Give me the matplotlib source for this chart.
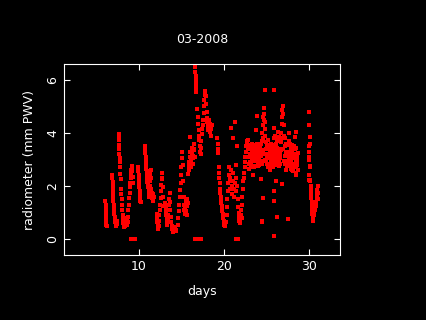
import numpy as np
import matplotlib
matplotlib.use('Agg')
import matplotlib.pyplot as plt

# ---- data (day of month, PWV in mm) ----
# week 1
days_w1 = [6.08, 6.09, 6.10, 6.11, 6.12, 6.13, 6.14, 6.15, 6.16, 6.18, 6.20,
           6.88, 6.90, 6.92, 6.94, 6.96, 6.98, 7.00, 7.02, 7.05, 7.08, 7.10,
           7.13, 7.16, 7.19, 7.22, 7.25, 7.28, 7.31, 7.34, 7.37, 7.40, 7.43,
           7.62, 7.64, 7.66, 7.68, 7.70, 7.72, 7.74, 7.76, 7.80, 7.84, 7.88,
           7.92, 7.95, 7.98, 8.01, 8.04, 8.08, 8.12, 8.16, 8.20, 8.25, 8.30,
           8.35, 8.40, 8.45, 8.50, 8.55, 8.60,
           8.70, 8.74, 8.78, 8.82, 8.86, 8.90, 8.94, 8.98, 9.02, 9.06, 9.10,
           9.14, 9.18, 9.22, 9.26, 9.30,
           9.10, 9.20, 9.30, 9.40, 9.50,
           9.90, 9.93, 9.96, 9.99, 10.02, 10.05, 10.08, 10.11, 10.14, 10.17, 10.20,
           10.70, 10.73, 10.76, 10.79, 10.82, 10.85, 10.88, 10.91, 10.94, 10.97,
           11.00, 11.04, 11.08, 11.12, 11.16, 11.20, 11.24, 11.28, 11.32, 11.36,
           11.40, 11.44, 11.48, 11.52, 11.56, 11.60, 11.64, 11.68, 11.72]
pwv_w1 = [1.42, 1.30, 1.18, 1.05, 0.98, 0.90, 0.80, 0.72, 0.62, 0.55, 0.48,
          2.42, 2.30, 2.15, 2.00, 1.85, 1.70, 1.60, 1.45, 1.30, 1.15, 1.00,
          0.95, 0.85, 0.80, 0.72, 0.65, 0.60, 0.55, 0.52, 0.50, 0.58, 0.70,
          3.95, 3.88, 3.72, 3.55, 3.38, 3.20, 3.05, 2.92, 2.70, 2.45, 2.25,
          1.90, 1.70, 1.50, 1.30, 1.10, 0.90, 0.75, 0.62, 0.50, 0.45, 0.55,
          0.70, 0.48, 0.60, 0.80, 0.68, 0.55,
          0.65, 0.85, 1.10, 1.30, 1.55, 1.75, 1.95, 2.10, 2.30, 2.45, 2.60,
          2.72, 2.76, 2.55, 2.35, 2.10,
          0.0, 0.0, 0.0, 0.0, 0.0,
          2.70, 2.55, 2.40, 2.25, 2.10, 1.95, 1.80, 1.65, 1.55, 1.45, 1.40,
          3.50, 3.40, 3.25, 3.10, 2.95, 2.80, 2.65, 2.55, 2.40, 2.30,
          2.15, 2.05, 1.95, 2.10, 1.85, 1.70, 1.60, 2.00, 2.20, 2.45,
          2.60, 2.30, 1.90, 1.75, 1.55, 1.50, 1.70, 1.45, 1.60]

# week 2
days_w2 = [12.10, 12.14, 12.18, 12.22, 12.26, 12.30, 12.34, 12.38, 12.42, 12.46,
           12.50, 12.54, 12.58, 12.62, 12.66, 12.70, 12.74, 12.78, 12.82, 12.86,
           13.10, 13.14, 13.18, 13.22, 13.26, 13.30, 13.34, 13.38, 13.42, 13.46,
           13.50, 13.55, 13.60, 13.65, 13.70, 13.75, 13.80, 13.85, 13.90, 13.95,
           14.00, 14.05, 14.10, 14.15, 14.20, 14.30, 14.40,
           14.60, 14.65, 14.70, 14.75, 14.80, 14.85, 14.90, 14.95, 15.00, 15.05,
           15.10, 15.15, 15.20, 15.25, 15.30, 15.35, 15.40, 15.45, 15.50, 15.55,
           15.60, 15.65, 15.70, 15.75,
           15.80, 15.84, 15.88, 15.92, 15.96, 16.00, 16.04, 16.08, 16.12, 16.16,
           16.20, 16.24, 16.28, 16.32, 16.36, 16.40, 16.44, 16.48, 16.52, 16.56,
           16.62, 16.64, 16.66, 16.68, 16.70, 16.72, 16.74,
           16.62, 16.75, 16.88, 17.00, 17.12, 17.25,
           16.85, 16.90, 16.95, 17.00, 17.05, 17.10, 17.15, 17.20, 17.25, 17.30,
           17.35, 17.40, 17.45, 17.50, 17.55, 17.60, 17.65, 17.70, 17.75, 17.80,
           17.85, 17.90, 17.95, 18.00, 18.05, 18.10, 18.15, 18.20, 18.25, 18.30,
           18.35, 18.40, 18.45, 18.50, 18.55]
pwv_w2 = [0.95, 0.80, 0.65, 0.55, 0.45, 0.38, 0.50, 0.70, 0.90, 1.10,
          1.30, 1.55, 1.80, 2.05, 2.30, 2.50, 2.25, 1.95, 1.60, 1.25,
          1.35, 1.20, 1.05, 0.90, 0.75, 0.60, 0.55, 0.70, 0.90, 1.10,
          1.30, 1.50, 1.72, 1.40, 1.10, 0.85, 0.65, 0.50, 0.40, 0.30,
          0.25, 0.35, 0.45, 0.30, 0.40, 0.30, 0.35,
          0.55, 0.80, 1.05, 1.30, 1.60, 1.85, 2.10, 2.40, 2.70, 3.05,
          3.30, 2.80, 2.20, 1.60, 1.30, 1.10, 0.95, 1.20, 1.45, 1.05,
          0.90, 1.25, 1.50, 1.35,
          2.45, 2.60, 2.75, 2.90, 3.85, 3.30, 3.10, 2.95, 2.70, 3.00,
          3.25, 3.45, 3.20, 3.05, 2.85, 3.15, 3.40, 3.60, 3.35, 3.10,
          6.50, 6.30, 6.15, 6.00, 5.85, 5.70, 5.55,
          0.0, 0.0, 0.0, 0.0, 0.0, 0.0,
          4.90, 4.60, 4.35, 4.10, 3.90, 3.75, 3.50, 3.30, 3.20, 3.45,
          3.70, 3.95, 4.15, 4.30, 4.50, 4.75, 5.00, 5.25, 5.45, 5.60,
          5.40, 5.10, 4.80, 4.55, 4.40, 4.25, 4.10, 4.30, 4.50, 4.35,
          4.20, 4.05, 3.90, 4.15, 4.30]

# week 3
days_w3 = [19.20, 19.24, 19.28, 19.32, 19.36, 19.40, 19.44, 19.48, 19.52, 19.56,
           19.60, 19.64, 19.68, 19.72, 19.76, 19.80, 19.84, 19.88, 19.92, 19.96,
           20.00, 20.04, 20.08, 20.12, 20.16, 20.20,
           20.30, 20.35, 20.40, 20.45, 20.50, 20.55, 20.60, 20.65, 20.70, 20.75,
           20.80, 20.85, 20.90, 20.95, 21.00, 21.05, 21.10, 21.15, 21.20, 21.25,
           21.30, 21.35, 21.40, 21.45, 21.50, 21.55, 21.60, 21.65, 21.70, 21.75,
           21.80, 21.85, 21.90, 21.95, 22.00, 22.05, 22.10, 22.15, 22.20, 22.25,
           22.30, 22.35, 22.40, 22.45, 22.50, 22.55, 22.60, 22.65, 22.70,
           21.40, 21.50, 21.60]
pwv_w3 = [3.80, 3.60, 3.40, 3.25, 2.70, 2.50, 2.30, 2.10, 1.90, 1.75,
          1.60, 1.50, 1.35, 1.25, 1.15, 1.05, 0.95, 0.85, 0.80, 0.70,
          0.62, 0.55, 0.50, 0.48, 0.55, 0.65,
          0.90, 1.20, 1.50, 1.80, 2.10, 2.40, 2.70, 2.20, 1.90, 2.30,
          4.20, 2.60, 2.00, 1.70, 2.20, 3.80, 2.50, 1.90, 1.60, 2.10,
          4.42, 2.80, 2.30, 1.80, 3.50, 2.00, 1.50, 1.20, 1.00, 0.85,
          0.70, 0.62, 0.75, 0.90, 1.10, 0.80, 1.30, 1.60, 1.90, 2.20,
          2.50, 2.30, 2.70, 2.90, 3.10, 3.30, 3.50, 3.70, 3.60,
          0.0, 0.0, 0.0]

# late month band
days_w4 = [22.75, 22.80, 22.85, 22.90, 22.95, 23.00, 23.05, 23.10, 23.15, 23.20,
           23.25, 23.30, 23.35, 23.40, 23.45, 23.50, 23.55, 23.60, 23.65, 23.70,
           23.75, 23.80, 23.85, 23.90, 23.95, 24.00, 24.05, 24.10, 24.15, 24.20,
           24.25, 24.30, 24.35, 24.40, 24.45, 24.50, 24.55, 24.60, 24.65, 24.70,
           24.75, 24.80, 24.85, 24.90, 24.95, 25.00, 25.05, 25.10, 25.15, 25.20,
           25.25, 25.30, 25.35, 25.40, 25.45, 25.50, 25.55, 25.60, 25.65, 25.70,
           25.75, 25.80, 25.85, 25.90, 25.95, 26.00, 26.05, 26.10, 26.15, 26.20,
           26.25, 26.30, 26.35, 26.40, 26.45, 26.50, 26.55, 26.60, 26.65, 26.70,
           26.75, 26.80, 26.85, 26.90, 26.95, 27.00, 27.05, 27.10, 27.15, 27.20,
           27.25, 27.30, 27.35, 27.40, 27.45, 27.50, 27.55, 27.60, 27.65, 27.70,
           27.75, 27.80, 27.85, 27.90, 27.95, 28.00, 28.05, 28.10, 28.15, 28.20,
           28.25, 28.30, 28.35, 28.40, 28.45, 28.50, 28.55, 28.60, 28.65,
           23.02, 23.12, 23.22, 23.32, 23.42, 23.52, 23.62, 23.72, 23.82, 23.92,
           24.02, 24.12, 24.22, 24.32, 24.42, 24.52, 24.62, 24.67, 24.72, 24.82,
           24.92, 25.02, 25.12, 25.22, 25.32, 25.42, 25.52, 25.62, 25.72, 25.82,
           25.92, 26.02, 26.12, 26.22, 26.32, 26.42, 26.52, 26.62, 26.72, 26.82,
           26.92, 27.02, 27.12, 27.22, 27.32, 27.42, 27.52, 27.62, 27.72, 27.82,
           27.92, 28.02, 28.12, 28.22, 28.32, 28.42, 28.52, 28.62,
           24.60, 24.50, 24.45, 25.90, 25.90, 25.90, 26.20, 26.05, 26.80, 27.50,
           28.50, 24.80, 25.90, 28.50, 24.30, 23.40]
pwv_w4 = [3.75, 3.40, 3.10, 2.85, 2.65, 2.90, 3.20, 3.45, 3.10, 2.80,
          3.30, 3.60, 3.20, 2.95, 3.15, 3.40, 3.05, 2.75, 3.00, 4.10,
          3.35, 3.55, 4.65, 3.20, 2.90, 3.10, 3.35, 3.00, 2.80, 3.25,
          3.50, 3.15, 2.95, 3.30, 3.70, 4.00, 4.30, 4.60, 4.95, 4.70,
          4.40, 4.15, 3.90, 3.65, 3.40, 3.10, 2.85, 3.20, 3.50, 3.75,
          3.40, 3.10, 2.80, 2.60, 2.95, 3.30, 3.60, 3.20, 2.90, 2.70,
          3.05, 3.40, 3.80, 4.20, 3.90, 3.55, 3.20, 2.90, 3.10, 3.45,
          3.75, 4.05, 3.70, 3.35, 3.00, 2.75, 3.05, 3.40, 3.65, 4.00,
          4.35, 4.60, 4.85, 5.00, 4.70, 4.30, 3.90, 3.50, 3.15, 2.85,
          2.60, 2.90, 3.25, 3.55, 3.20, 2.95, 3.30, 3.70, 4.00, 3.60,
          3.25, 2.90, 2.65, 3.00, 3.35, 3.10, 2.80, 2.55, 2.85, 3.20,
          3.50, 3.85, 3.40, 3.00, 2.70, 2.50, 2.80, 3.10, 3.25,
          3.55, 2.70, 3.05, 2.95, 3.45, 2.70, 3.50, 3.05, 2.95, 3.60,
          2.75, 3.45, 2.90, 3.60, 2.85, 3.35, 3.80, 4.50, 3.20, 3.00,
          2.95, 3.50, 2.70, 3.05, 3.55, 3.25, 2.75, 3.45, 3.30, 2.85,
          3.30, 2.95, 3.60, 2.80, 3.35, 3.85, 3.20, 2.85, 3.35, 3.80,
          3.40, 2.95, 3.80, 3.30, 3.60, 2.75, 3.60, 3.05, 2.80, 3.45,
          2.60, 3.55, 3.15, 2.75, 3.05, 3.45, 2.95, 2.60,
          1.56, 0.65, 0.68, 1.82, 1.44, 0.12, 0.84, 2.20, 2.09, 0.77,
          2.43, 5.63, 5.63, 4.05, 2.25, 2.40]

# end of month
days_w5 = [30.00, 30.00, 30.05, 30.10, 29.95, 30.00, 29.95, 30.00, 30.05, 30.10,
           29.95, 29.97, 30.07,
           30.12, 30.15, 30.18, 30.21, 30.24, 30.27, 30.30, 30.33, 30.36, 30.40,
           30.44, 30.48, 30.52, 30.56, 30.60, 30.65, 30.70, 30.75, 30.80, 30.85,
           30.90, 30.95, 31.00, 31.04, 31.08]
pwv_w5 = [4.80, 4.30, 3.86, 3.60, 3.50, 3.30, 3.10, 3.00, 2.75, 2.72,
          2.43, 2.24, 2.24,
          2.20, 2.00, 1.85, 1.70, 1.55, 1.40, 1.25, 1.10, 0.95, 0.80,
          0.68, 0.75, 0.90, 1.00, 1.15, 1.30, 1.10, 1.25, 1.40, 1.55,
          1.70, 1.85, 2.00, 1.75, 1.50]

days = days_w1 + days_w2 + days_w3 + days_w4 + days_w5
pwv = pwv_w1 + pwv_w2 + pwv_w3 + pwv_w4 + pwv_w5

fig = plt.figure(figsize=(4.26, 3.2), dpi=100, facecolor='black')
ax = fig.add_axes([0.150, 0.203, 0.648, 0.597], facecolor='black')

ax.plot(days, pwv, linestyle='none', marker='s', markersize=2.2,
        markeredgewidth=0, color='red')

ax.set_xlim(1.2, 33.6)
ax.set_ylim(-0.6, 6.6)
ax.set_xticks([10, 20, 30])
ax.set_yticks([0, 2, 4, 6])

for s in ax.spines.values():
    s.set_color('white')
    s.set_linewidth(0.8)
ax.tick_params(direction='in', length=4.5, width=0.8, colors='white',
               top=True, right=True, labelsize=9)
for lab in ax.get_yticklabels():
    lab.set_rotation(90)
    lab.set_va('center')

ax.set_title('03-2008', color='white', fontsize=9, pad=15)
ax.set_xlabel('days', color='white', fontsize=9, labelpad=9)
ax.set_ylabel('radiometer (mm PWV)', color='white', fontsize=9, labelpad=7)

plt.savefig('out.png', dpi=100, facecolor='black')
